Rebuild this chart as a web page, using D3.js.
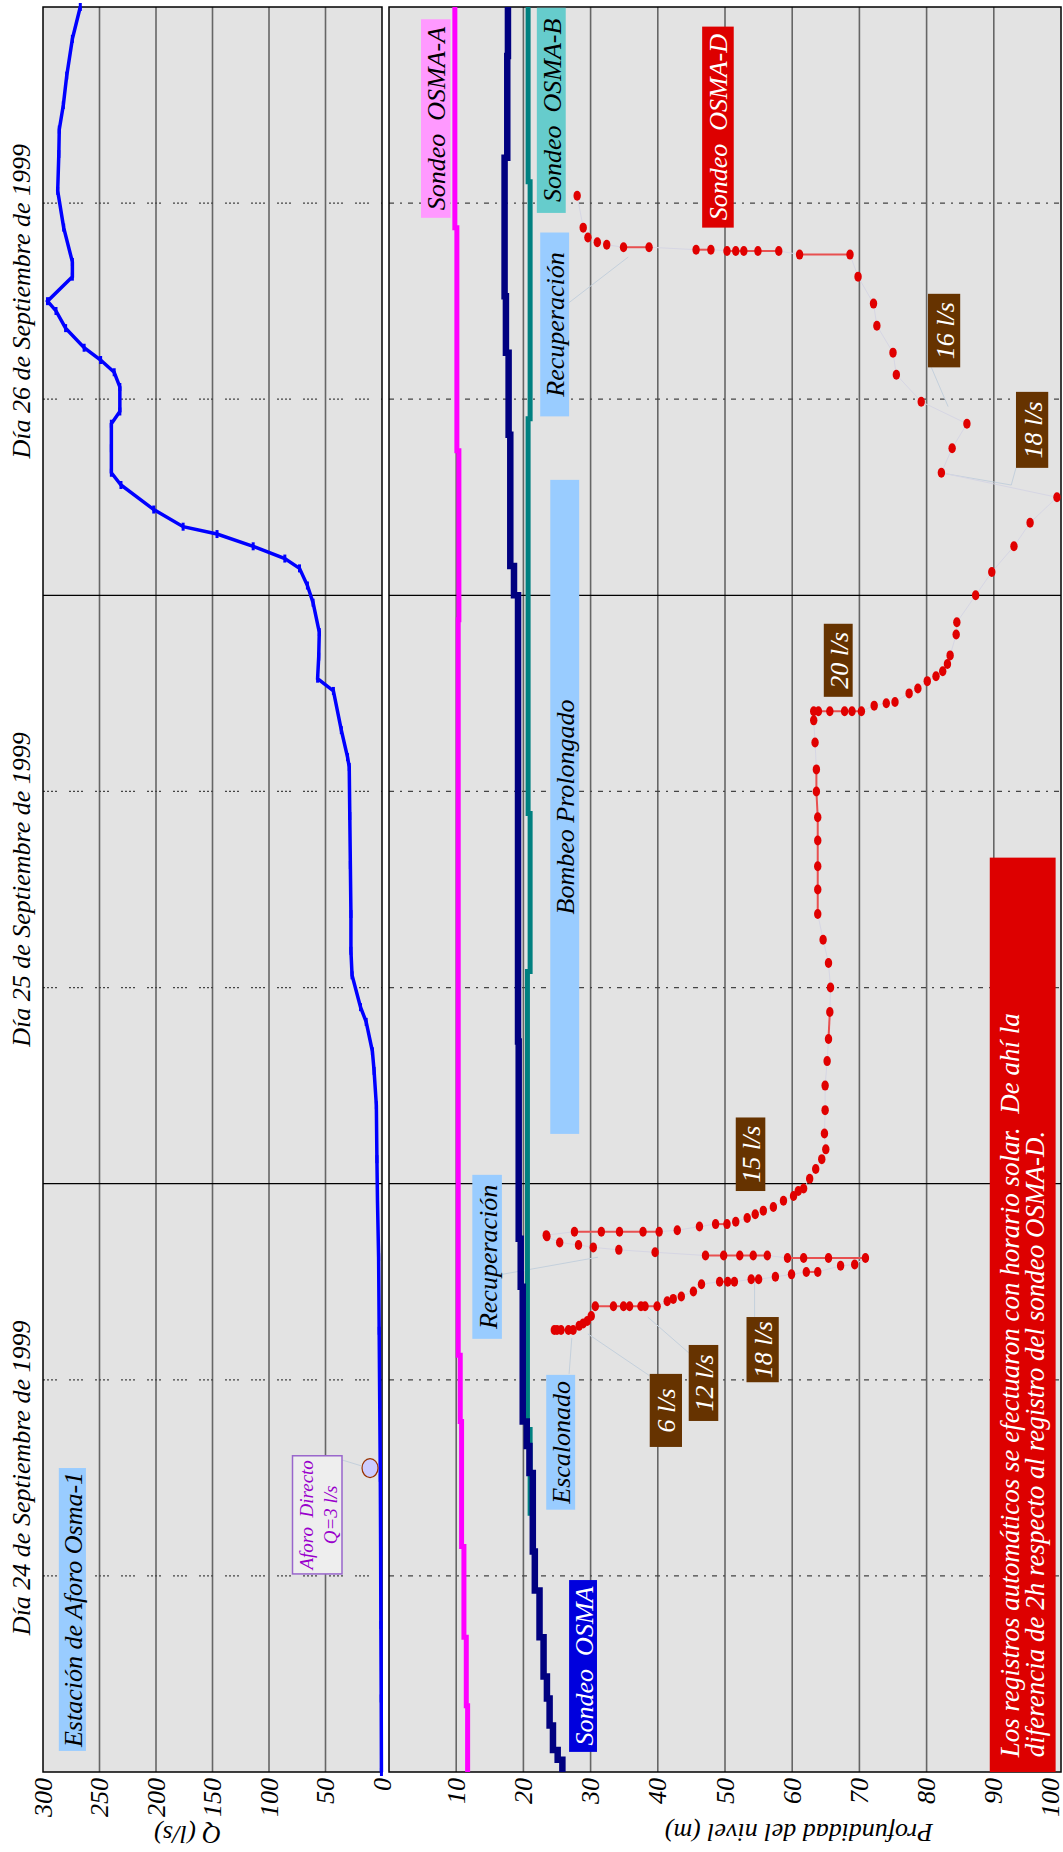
<!DOCTYPE html>
<html>
<head>
<meta charset="utf-8">
<script src="https://d3js.org/d3.v7.min.js"></script>
<style>
  body { margin: 0; background: #fff; }
  text { font-family: "Liberation Serif", "Times New Roman", serif; font-style: italic; }
</style>
</head>
<body>
<script>
// tiempo en horas desde el 24/09/1999 00:00
var dias = ["Día 24 de Septiembre de 1999", "Día 25 de Septiembre de 1999", "Día 26 de Septiembre de 1999"];
var ticksQ = [0, 50, 100, 150, 200, 250, 300];
var ticksProf = [10, 20, 30, 40, 50, 60, 70, 80, 90, 100];

// caudal en la estacion de aforo (l/s)
var caudal = [[0,0.5],[3,0.7],[6,1],[9,1.2],[12,1.5],[15,2],[18,2.5],[21,3],[23.3,4],[25,4.5],[27.2,5],[28.6,7],[29.4,8.5],
  [30.6,14],[31.2,19],[32.5,26.5],[33.5,27.5],[35,27.5],[37,28],[39,28.5],[41,29],[41.4,30.5],[42.5,36],[44.1,43],
  [44.6,57],[45.5,56],[46.5,55.5],[47.7,61],[48.4,66],[49.1,73],[49.5,86],[50,114],[50.5,146],[50.8,176],[51.5,202],
  [52.5,231],[53,239.5],[54,239.5],[55,239.5],[55.5,232],[56.5,232],[57.1,237],[57.6,249],[58.1,263.6],[58.9,280],
  [59.6,288.5],[60,296],[61,274],[61.6,274],[63,281.7],[64.5,287],[66,286],[67,285.6],[68,282],[69.2,279],[70.7,274],[72,267]];

// niveles (m) en escalones [t inicio, profundidad]
var osmaA = [[0,11.7],[2.7,11.5],[5.5,11.15],[9.2,10.8],[14.3,10.6],[17,10.3],[47,10.4],[53.9,10.1],[63,9.8],[72,9.8]];
var osma = [[0,25.8],[0.5,25.1],[0.9,24.4],[1.9,23.9],[3.0,23.5],[3.9,23.0],[5.5,22.4],[7.4,21.7],[9.0,21.4],[12.2,20.9],
  [13.3,20.5],[14.3,19.9],[19.8,19.6],[21.75,19.3],[29.8,19.2],[48.0,18.6],[49.2,18.05],[54.55,17.8],[57.9,17.4],
  [60.2,17.2],[65.85,17.6],[70,17.7],[72,17.7]];
var osmaB = [[10.45,21.0],[13.97,20.6],[32.66,21.0],[39.1,20.7],[55.2,21.0],[64.87,20.7],[72,20.7]];

var osmaD = [
  [18.03,[24.6,25.0,25.6,26.7,27.4]],[18.2,[28.3]],[18.3,[28.9]],[18.4,[29.5]],[18.6,[30.1]],
  [19.0,[30.7,33.4,34.9,35.8,37.5,38.1,39.9]],[19.2,[41.4]],[19.3,[42.3]],[19.4,[43.5]],[19.6,[45.3]],[19.9,[46.5]],
  [20.0,[49.2,50.4,51.4]],[20.1,[53.9,55.0]],[20.2,[57.5]],[20.3,[59.9]],[20.4,[62.1,63.8]],[20.65,[67.2]],[20.7,[69.3]],
  [20.97,[70.9,65.4,61.7,59.3]],[21.07,[56.3,54.2,52.2,49.8,47.1]],
  [21.2,[39.6]],[21.3,[34.2]],[21.4,[30.4]],[21.5,[28.2]],[21.6,[25.4]],[21.85,[23.5]],[21.9,[23.4]],
  [22.04,[27.6,31.6,34.3,37.8,40.2]],[22.1,[42.9]],[22.25,[46.2]],[22.35,[48.6,50.3]],[22.45,[51.6]],[22.6,[53.3]],
  [22.75,[54.5]],[22.9,[55.7]],[23.05,[57.2]],[23.3,[58.7]],[23.5,[60.2]],[23.7,[60.9]],[23.8,[61.7]],[24.2,[62.6]],
  [24.6,[63.5]],[25.0,[64.4]],[25.4,[65.0]],[26.05,[64.8]],[27.0,[64.9]],[28.0,[64.9]],[29.0,[65.2]],[29.9,[65.4]],
  [31.0,[65.6]],[32.0,[65.7]],[33.0,[65.4]],[33.95,[64.6]],[35.0,[63.8]],[36.0,[63.8]],[36.95,[63.8]],[38.0,[63.8]],
  [38.95,[63.8]],[40.0,[63.6]],[40.9,[63.6]],[42.0,[63.4]],[42.9,[63.2]],
  [43.27,[63.2,63.9,65.6,67.8,68.9,70.3]],[43.5,[72.2]],[43.6,[74.0]],[43.65,[75.3]],[44.0,[77.4]],[44.2,[78.7]],
  [44.5,[80.1]],[44.7,[81.4]],[44.9,[82.4]],[45.2,[83.1]],[45.55,[83.5]],[46.4,[84.4]],[46.9,[84.5]],[48.0,[87.3]],
  [48.95,[89.7]],[50.0,[93.0]],[50.96,[95.4]],[52.0,[99.4]],
  [53.0,[82.2]],[54.0,[83.8]],[55.0,[86.0]],[55.9,[79.2]],[57.0,[75.5]],[57.9,[75.0]],[59.0,[72.6]],[59.9,[72.1]],[61.0,[69.8]],
  [61.9,[68.6,61.1]],[62.05,[58.0,54.9,52.8,51.6,50.3]],[62.1,[47.9,45.7]],[62.2,[38.7,34.9]],
  [62.3,[32.4]],[62.4,[31.0]],[62.6,[29.6]],[63.0,[28.9]],[64.3,[28.0]]];
// tramos en el tiempo unidos con linea roja (horas)
var tramosRojos = [[29.85,31.05],[34.9,41]];

var W = 1852, H = 1063;
var svg = d3.select("body").append("svg").attr("width", H).attr("height", W);
// el grafico original es apaisado: se dibuja en horizontal y se gira
var g = svg.append("g").attr("transform", "translate(0," + W + ") rotate(-90)");

var x = d3.scaleLinear().domain([0, 72]).range([80, 1845]);
var yQ = d3.scaleLinear().domain([0, 300]).range([382, 43]);
var yP = d3.scaleLinear().domain([0, 100]).range([389, 1061]);

function panel(y, ticks) {
  var r = y.range();
  var y0 = Math.min(r[0], r[1]), y1 = Math.max(r[0], r[1]);
  g.append("rect").attr("x", x(0)).attr("y", y0).attr("width", x(72) - x(0)).attr("height", y1 - y0)
    .attr("fill", "#e3e3e3");
  g.selectAll(null).data(ticks.filter(function(v){ return y(v) > y0 + 2 && y(v) < y1 - 2; })).enter().append("line")
    .attr("x1", x(0)).attr("x2", x(72)).attr("y1", y).attr("y2", y)
    .attr("stroke", "#666").attr("stroke-width", 1.6);
  return [y0, y1];
}
var bq = panel(yQ, ticksQ);
var bp = panel(yP, ticksProf);

// lineas de dia y de 8 horas
[8, 16, 32, 40, 56, 64].forEach(function(h) {
  g.append("line").attr("x1", x(h)).attr("x2", x(h)).attr("y1", bq[0]).attr("y2", bq[1])
    .attr("stroke", "#444").attr("stroke-width", 1.2).attr("stroke-dasharray", "2,2,2,2,2,2,2,12");
  g.append("line").attr("x1", x(h)).attr("x2", x(h)).attr("y1", bp[0]).attr("y2", bp[1])
    .attr("stroke", "#444").attr("stroke-width", 1.2).attr("stroke-dasharray", "5,6,2,6");
});
[24, 48].forEach(function(h) {
  [bq, bp].forEach(function(b) {
    g.append("line").attr("x1", x(h)).attr("x2", x(h)).attr("y1", b[0]).attr("y2", b[1])
      .attr("stroke", "#000").attr("stroke-width", 1.2);
  });
});
[bq, bp].forEach(function(b) {
  g.append("rect").attr("x", x(0)).attr("y", b[0]).attr("width", x(72) - x(0)).attr("height", b[1] - b[0])
    .attr("fill", "none").attr("stroke", "#000").attr("stroke-width", 1.5);
});

// etiquetas de los dias
g.selectAll(null).data(dias).enter().append("text")
  .attr("x", function(d, i){ return x(12 + 24 * i); }).attr("y", 21)
  .attr("text-anchor", "middle").attr("dominant-baseline", "central")
  .attr("font-size", 26).text(function(d){ return d; });

// ejes
g.selectAll(null).data(ticksQ).enter().append("text")
  .attr("x", 74).attr("y", yQ).attr("text-anchor", "end").attr("dominant-baseline", "central")
  .attr("font-size", 26).text(function(d){ return d; });
g.selectAll(null).data(ticksProf).enter().append("text")
  .attr("x", 74).attr("y", function(d){ return Math.min(yP(d), 1050); })
  .attr("text-anchor", "end").attr("dominant-baseline", "central")
  .attr("font-size", 26).text(function(d){ return d; });
g.append("text").attr("transform", "translate(18," + yQ(172) + ") rotate(-90)")
  .attr("text-anchor", "middle").attr("dominant-baseline", "central").attr("font-size", 26).text("Q (l/s)");
g.append("text").attr("transform", "translate(20," + yP(61) + ") rotate(-90)")
  .attr("text-anchor", "middle").attr("dominant-baseline", "central").attr("font-size", 26).text("Profundidad del nivel (m)");

// recuadros de texto (en unidades de los datos)
var notas = [
  {y: yQ, t: [0.86, 12.4], v: [262, 286], txt: ["Estación de Aforo Osma-1"], fill: "#99ccff", col: "#000"},
  {y: yP, t: [0.82, 7.83], v: [26.8, 30.95], txt: ["Sondeo  OSMA"], fill: "#0000dd", col: "#fff"},
  {y: yP, t: [10.7, 16.2], v: [23.4, 27.7], txt: ["Escalonado"], fill: "#99ccff", col: "#000"},
  {y: yP, t: [17.67, 24.36], v: [12.4, 16.8], txt: ["Recuperación"], fill: "#99ccff", col: "#000"},
  {y: yP, t: [26.03, 52.71], v: [24.0, 28.3], txt: ["Bombeo Prolongado"], fill: "#99ccff", col: "#000"},
  {y: yP, t: [55.3, 62.8], v: [22.5, 26.8], txt: ["Recuperación"], fill: "#99ccff", col: "#000"},
  {y: yP, t: [63.4, 71.5], v: [4.76, 9.17], txt: ["Sondeo  OSMA-A"], fill: "#ff99ff", col: "#000"},
  {y: yP, t: [63.6, 71.97], v: [22.0, 26.3], txt: ["Sondeo  OSMA-B"], fill: "#66cccc", col: "#000"},
  {y: yP, t: [63.0, 71.2], v: [46.6, 51.3], txt: ["Sondeo  OSMA-D"], fill: "#dd0000", col: "#fff"},
  {y: yP, t: [13.26, 16.24], v: [38.8, 43.6], txt: ["6 l/s"], fill: "#663300", col: "#fff"},
  {y: yP, t: [14.32, 17.42], v: [44.6, 49.0], txt: ["12 l/s"], fill: "#663300", col: "#fff"},
  {y: yP, t: [15.9, 18.56], v: [53.2, 58.0], txt: ["18 l/s"], fill: "#663300", col: "#fff"},
  {y: yP, t: [23.7, 26.7], v: [51.6, 56.0], txt: ["15 l/s"], fill: "#663300", col: "#fff"},
  {y: yP, t: [43.86, 46.84], v: [64.7, 69.0], txt: ["20 l/s"], fill: "#663300", col: "#fff"},
  {y: yP, t: [57.3, 60.3], v: [80.2, 85.0], txt: ["16 l/s"], fill: "#663300", col: "#fff"},
  {y: yP, t: [53.2, 56.3], v: [93.3, 98.1], txt: ["18 l/s"], fill: "#663300", col: "#fff"}
];

// lineas de referencia tenues
var guias = [
  {y: yP, p: [[59.9, 26.6], [61.8, 35.6]]},
  {y: yP, p: [[20.3, 16.8], [21.0, 31.1]]},
  {y: yP, p: [[16.24, 26.8], [17.7, 27.2]]},
  {y: yP, p: [[16.16, 38.8], [17.87, 29.6]]},
  {y: yP, p: [[17.1, 44.6], [18.56, 38.5]]},
  {y: yP, p: [[18.56, 54.4], [20.07, 54.4]]},
  {y: yP, p: [[57.3, 80.7], [55.7, 83.2]]},
  {y: yP, p: [[53.2, 93.3], [52.5, 92.6], [53.0, 82.0]]},
  {y: yQ, p: [[12.73, 35.4], [12.46, 16.3]]}
];
guias.forEach(function(gu) {
  g.append("path").attr("d", d3.line().x(function(p){ return x(p[0]); }).y(function(p){ return gu.y(p[1]); })(gu.p))
    .attr("fill", "none").attr("stroke", "#c4d0dc").attr("stroke-width", 1);
});

// serie de caudal
var lineaQ = d3.line().x(function(d){ return x(d[0]); }).y(function(d){ return yQ(d[1]); });
g.append("path").attr("d", lineaQ(caudal)).attr("fill", "none").attr("stroke", "#0000ff").attr("stroke-width", 3.5);
g.selectAll(null).data(caudal).enter().append("line")
  .attr("x1", function(d){ return x(d[0]) - 4; }).attr("x2", function(d){ return x(d[0]) + 4; })
  .attr("y1", function(d){ return yQ(d[1]); }).attr("y2", function(d){ return yQ(d[1]); })
  .attr("stroke", "#0000ff").attr("stroke-width", 3);

// aforo directo
g.append("ellipse").attr("cx", x(12.4)).attr("cy", yQ(10.6)).attr("rx", 9.5).attr("ry", 8)
  .attr("fill", "#ccccff").attr("stroke", "#993300").attr("stroke-width", 1.2);
var af = g.append("g");
af.append("rect").attr("x", x(8.08)).attr("y", yQ(79.2)).attr("width", x(12.9) - x(8.08)).attr("height", yQ(35.4) - yQ(79.2))
  .attr("fill", "#eeeeee").attr("stroke", "#9966cc").attr("stroke-width", 1.5);
af.selectAll(null).data(["Aforo  Directo", "Q=3 l/s"]).enter().append("text")
  .attr("x", x(10.49)).attr("y", function(d, i){ return yQ(79.2) + 14 + i * 24; })
  .attr("text-anchor", "middle").attr("dominant-baseline", "central").attr("font-size", 19)
  .attr("fill", "#9900cc").style("white-space", "pre").text(function(d){ return d; });

// niveles
var escalon = d3.line().curve(d3.curveStepAfter).x(function(d){ return x(d[0]); }).y(function(d){ return yP(d[1]); });
g.append("path").attr("d", escalon(osmaA)).attr("fill", "none").attr("stroke", "#ff00ff").attr("stroke-width", 5);
g.append("path").attr("d", escalon(osmaB)).attr("fill", "none").attr("stroke", "#008080").attr("stroke-width", 5);
g.append("path").attr("d", escalon(osma)).attr("fill", "none").attr("stroke", "#000080").attr("stroke-width", 6.5);

// OSMA-D
var ptsD = [];
osmaD.forEach(function(r) { r[1].forEach(function(v) { ptsD.push([r[0], v]); }); });
var lineaD = d3.line().x(function(d){ return x(d[0]); }).y(function(d){ return yP(d[1]); });
g.append("path").attr("d", lineaD(ptsD)).attr("fill", "none").attr("stroke", "#d6d6e4").attr("stroke-width", 1);
// lecturas del mismo instante unidas en rojo
osmaD.filter(function(r){ return r[1].length > 1; }).forEach(function(r) {
  g.append("path").attr("d", lineaD(r[1].map(function(v){ return [r[0], v]; })))
    .attr("fill", "none").attr("stroke", "#e85050").attr("stroke-width", 2);
});
tramosRojos.forEach(function(tr) {
  var s = ptsD.filter(function(p){ return p[0] >= tr[0] && p[0] <= tr[1]; });
  g.append("path").attr("d", lineaD(s)).attr("fill", "none").attr("stroke", "#e85050").attr("stroke-width", 2);
});
g.selectAll(null).data(ptsD).enter().append("ellipse")
  .attr("cx", function(d){ return x(d[0]); }).attr("cy", function(d){ return yP(d[1]); })
  .attr("rx", 5).attr("ry", 3.7).attr("fill", "#e00000");

// recuadros
notas.forEach(function(n) {
  var y0 = Math.min(n.y(n.v[0]), n.y(n.v[1])), y1 = Math.max(n.y(n.v[0]), n.y(n.v[1]));
  g.append("rect").attr("x", x(n.t[0])).attr("y", y0).attr("width", x(n.t[1]) - x(n.t[0])).attr("height", y1 - y0)
    .attr("fill", n.fill);
  g.append("text").attr("x", (x(n.t[0]) + x(n.t[1])) / 2).attr("y", (y0 + y1) / 2 + 1)
    .attr("text-anchor", "middle").attr("dominant-baseline", "central").attr("font-size", 26)
    .attr("fill", n.col).style("white-space", "pre").text(n.txt[0]);
});

// nota del horario solar
var nota = ["Los registros automáticos se efectuaron con horario solar.  De ahí la",
            "diferencia de 2h respecto al registro del sondeo OSMA-D."];
g.append("rect").attr("x", x(0)).attr("y", yP(89.4)).attr("width", x(37.3) - x(0)).attr("height", yP(99.2) - yP(89.4))
  .attr("fill", "#dd0000");
g.selectAll(null).data(nota).enter().append("text")
  .attr("x", x(0.6)).attr("y", function(d, i){ return yP(92.4 + i * 3.7); })
  .attr("dominant-baseline", "central").attr("font-size", 27).attr("fill", "#fff")
  .style("white-space", "pre").text(function(d){ return d; });
</script>
</body>
</html>
